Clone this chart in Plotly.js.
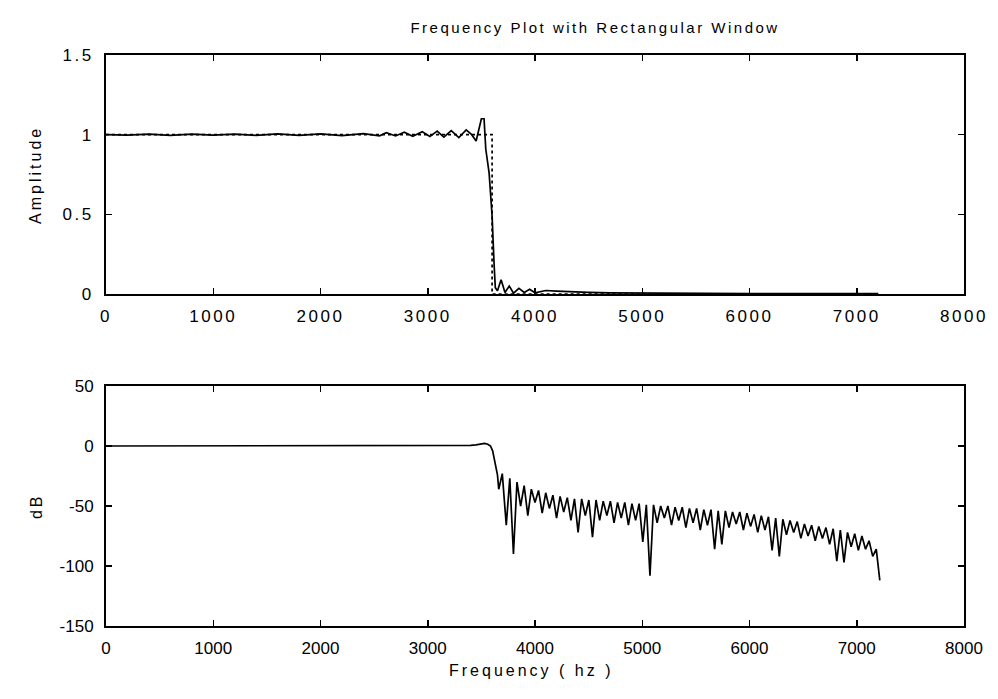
<!DOCTYPE html>
<html><head><meta charset="utf-8">
<script src="https://cdn.plot.ly/plotly-3.0.1.min.js"></script>
<style>
html,body{margin:0;padding:0;background:#fff;}
#chart{width:998px;height:699px;}
.xtick text,.ytick text{letter-spacing:2.5px;}
.gtitle{letter-spacing:2.5px;}
.annotation-text{letter-spacing:3px;}
</style></head><body><div id="chart"></div>
<script>
// Top panel: amplitude response (solid) and ideal response (dotted)
const ampFreq=[0,200,400,600,800,1000,1200,1400,1600,1800,2000,2200,2400,2550,2614,2700,2781,2860,2949,3020,3088,3150,3219,3290,3358,3410,3451,3478,3500,3525,3541,3572,3600,3619,3630,3650,3684,3720,3760,3800,3850,3900,3950,4000,4100,4200,4300,4400,4500,4700,5000,6000,7200];
const ampVals=[1.0,0.997,1.003,0.996,1.004,0.997,1.004,0.996,1.005,0.995,1.005,0.994,1.006,0.993,1.012,0.992,1.015,0.990,1.018,0.988,1.022,0.985,1.025,0.982,1.03,1.0,0.96,1.03,1.10,1.10,0.91,0.76,0.49,0.18,0.04,0.02,0.09,0.01,0.05,0.005,0.035,0.01,0.03,0.008,0.022,0.018,0.014,0.012,0.01,0.007,0.005,0.003,0.002];
const idealFreq=[0,3600,3600,7200];
const idealVals=[1,1,0,0];

// Bottom panel: magnitude in dB
const dbFreq=[0,500,1000,1500,2000,2500,3000,3300,3400,3450,3500,3530,3560,3585,3605,3620,3635,3650,
3662,3695,3732,3765,3799,3832,3866,3899,3933,3966,4000,4033,4067,4100,4134,4167,4201,4234,4268,4301,4335,4368,
4402,4435,4469,4502,4536,4569,4603,4636,4670,4703,4737,4770,4804,4837,4871,4904,4938,4971,5005,5038,
5072,5105,5139,5172,5206,5239,5273,5306,5340,5373,5407,5440,5474,5507,5541,5574,5608,5641,5675,5708,
5742,5775,5809,5842,5876,5909,5943,5976,6010,6043,6077,6110,6144,6177,6211,6244,6278,6311,6345,6378,
6412,6445,6479,6512,6546,6579,6613,6646,6680,6713,6747,6780,6814,6847,6881,6914,6948,6981,7015,7048,
7082,7115,7149,7182,7215];
const dbVals=[0,0,0,0,0,0,0.1,0.2,0.5,1.0,1.8,2.1,1.5,0,-4,-11,-19,-24,
-36,-23,-66,-27,-90,-30,-50,-33,-58,-36,-47,-37,-56,-39,-52,-41,-60,-42,-55,-43,-62,-44,
-72,-44,-58,-45,-76,-45,-62,-46,-58,-46,-64,-47,-60,-47,-66,-48,-62,-48,-80,-49,
-108,-49,-64,-50,-60,-50,-66,-51,-62,-51,-68,-52,-64,-52,-70,-53,-66,-53,-86,-54,
-82,-54,-68,-55,-65,-55,-70,-56,-67,-57,-72,-58,-70,-59,-87,-60,-92,-61,-74,-62,
-72,-63,-77,-65,-75,-66,-79,-67,-77,-68,-82,-69,-96,-70,-97,-72,-84,-73,-87,-75,
-86,-79,-92,-86,-112];

const xTickVals=[0,1000,2000,3000,4000,5000,6000,7000,8000];
const ampTickVals=[0,0.5,1,1.5];
const ampTickText=['0','0.5','1','1.5'];
const dbTickVals=[-150,-100,-50,0,50];
const dbTickText=['-150','-100','-50','0','50'];

const FONT='"Liberation Sans", Arial, sans-serif';
const lineStyle={color:'#000',width:1.7};

const traces=[
 {x:ampFreq,y:ampVals,type:'scatter',mode:'lines',line:lineStyle,xaxis:'x',yaxis:'y',hoverinfo:'skip'},
 {x:idealFreq,y:idealVals,type:'scatter',mode:'lines',line:{color:'#000',width:1.7,dash:'dot'},xaxis:'x',yaxis:'y',hoverinfo:'skip'},
 {x:dbFreq,y:dbVals,type:'scatter',mode:'lines',line:lineStyle,xaxis:'x2',yaxis:'y2',hoverinfo:'skip'}
];

function axisBase(){
 return {showline:true,linecolor:'#000',linewidth:2,mirror:'ticks',ticks:'inside',ticklen:6,tickwidth:1.5,tickcolor:'#000',
  showgrid:false,zeroline:false,tickfont:{family:FONT,size:17,color:'#000'},fixedrange:true};
}
const xa=Object.assign(axisBase(),{range:[0,8000],tickvals:xTickVals,anchor:'y',ticklabelstandoff:6});
const xa2=Object.assign(axisBase(),{range:[0,8000],tickvals:xTickVals,anchor:'y2',ticklabelstandoff:6});
const ya=Object.assign(axisBase(),{range:[0,1.5],tickvals:ampTickVals,ticktext:ampTickText,domain:[0.5814,1],anchor:'x',ticklabelstandoff:7});
const ya2=Object.assign(axisBase(),{range:[-150,50],tickvals:dbTickVals,ticktext:dbTickText,domain:[0,0.4203],anchor:'x2',ticklabelstandoff:7});

const layout={
 width:998,height:699,
 margin:{l:106,r:34,t:55,b:73},
 paper_bgcolor:'#fff',plot_bgcolor:'#fff',
 showlegend:false,
 title:{text:'Frequency Plot with Rectangular Window',font:{family:FONT,size:15,color:'#000'},
  x:0.57,xref:'paper',xanchor:'center',y:1.0455,yref:'paper',yanchor:'middle'},
 xaxis:xa,yaxis:ya,xaxis2:xa2,yaxis2:ya2,
 annotations:[
  {text:'Amplitude',xref:'paper',yref:'paper',x:-0.0816,y:0.79,textangle:-90,showarrow:false,
   font:{family:FONT,size:16,color:'#000'},xanchor:'center',yanchor:'middle'},
  {text:'dB',xref:'paper',yref:'paper',x:-0.0816,y:0.21,textangle:-90,showarrow:false,
   font:{family:FONT,size:16,color:'#000'},xanchor:'center',yanchor:'middle'},
  {text:'Frequency ( hz )',xref:'paper',yref:'paper',x:0.4953,y:-0.0788,showarrow:false,
   font:{family:FONT,size:16,color:'#000'},xanchor:'center',yanchor:'middle'}
 ]
};
Plotly.newPlot('chart',traces,layout,{displayModeBar:false,staticPlot:true});
</script></body></html>
